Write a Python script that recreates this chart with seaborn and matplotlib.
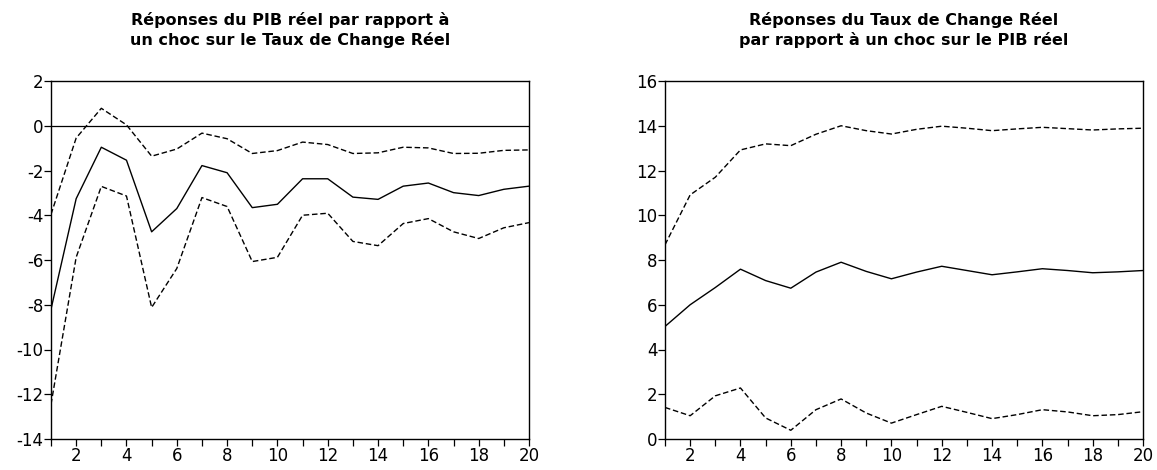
import numpy as np
import pandas as pd
import matplotlib
matplotlib.use("Agg")
import matplotlib.pyplot as plt
import seaborn as sns

periods = list(range(1, 21))

# Left: responses of real GDP to a shock on the real exchange rate
pib_resp = [-8.2, -3.26, -0.96, -1.54, -4.74, -3.70, -1.78, -2.10, -3.66, -3.51,
            -2.37, -2.37, -3.19, -3.29, -2.70, -2.56, -2.99, -3.12, -2.84, -2.70]
pib_upper = [-3.96, -0.55, 0.78, 0.04, -1.36, -1.04, -0.33, -0.58, -1.24, -1.11,
             -0.73, -0.84, -1.24, -1.21, -0.96, -0.99, -1.24, -1.23, -1.10, -1.08]
pib_lower = [-12.45, -5.88, -2.71, -3.14, -8.12, -6.38, -3.21, -3.61, -6.07, -5.88,
             -4.00, -3.91, -5.17, -5.36, -4.37, -4.15, -4.74, -5.04, -4.56, -4.33]

# Right: responses of real exchange rate to a shock on real GDP
tcr_resp = [5.03, 6.00, 6.77, 7.59, 7.08, 6.74, 7.46, 7.90, 7.49, 7.16,
            7.46, 7.72, 7.53, 7.34, 7.47, 7.61, 7.53, 7.43, 7.47, 7.53]
tcr_upper = [8.68, 10.91, 11.70, 12.92, 13.19, 13.11, 13.62, 14.00, 13.78, 13.63,
             13.84, 13.98, 13.89, 13.78, 13.86, 13.93, 13.87, 13.81, 13.86, 13.89]
tcr_lower = [1.41, 1.04, 1.93, 2.28, 0.94, 0.39, 1.31, 1.79, 1.16, 0.71,
             1.09, 1.46, 1.19, 0.91, 1.09, 1.31, 1.21, 1.04, 1.09, 1.22]

title_left = "Réponses du PIB réel par rapport à\nun choc sur le Taux de Change Réel"
title_right = "Réponses du Taux de Change Réel\npar rapport à un choc sur le PIB réel"

sns.set_style("white")
plt.rcParams['font.family'] = ['DejaVu Sans']
plt.rcParams['text.color'] = 'black'

fig = plt.figure(figsize=(11.57, 4.70), dpi=100)
W, H = 1157, 470
ax1 = fig.add_axes([51 / W, (H - 439) / H, 478 / W, 358 / H])
ax2 = fig.add_axes([665 / W, (H - 439) / H, 478 / W, 358 / H])


def draw(ax, resp, up, lo, ylim, yticks, title, zero_line):
    df = pd.DataFrame({
        "periode": periods * 3,
        "valeur": list(resp) + list(up) + list(lo),
        "serie": ["resp"] * 20 + ["up"] * 20 + ["lo"] * 20,
    })
    sns.lineplot(data=df[df.serie == "resp"], x="periode", y="valeur", ax=ax,
                 color="black", linewidth=1.0, legend=False)
    for s in ["up", "lo"]:
        sns.lineplot(data=df[df.serie == s], x="periode", y="valeur", ax=ax,
                     color="black", linewidth=1.0, linestyle=(0, (4, 2)), legend=False)
    if zero_line:
        ax.axhline(0, color="black", linewidth=0.9)
    ax.set_xlim(1, 20)
    ax.set_ylim(*ylim)
    ax.set_xticks(periods)
    ax.set_xticklabels([str(p) if p % 2 == 0 else "" for p in periods])
    ax.set_yticks(yticks)
    ax.set_yticklabels([str(v) for v in yticks])
    ax.set_xlabel("")
    ax.set_ylabel("")
    for sp in ax.spines.values():
        sp.set_visible(True)
        sp.set_color("black")
        sp.set_linewidth(1.0)
    ax.tick_params(axis="x", bottom=True, top=False, direction="out", length=5,
                   width=0.9, labelsize=12, pad=1, colors="black")
    ax.tick_params(axis="y", left=True, right=False, direction="out", length=5,
                   width=0.9, labelsize=12, pad=0.5, colors="black")
    ax.set_title(title, fontsize=11.5, fontweight="bold", pad=26,
                 linespacing=1.3, color="black")


draw(ax1, pib_resp, pib_upper, pib_lower, (-14, 2), list(range(-14, 3, 2)),
     title_left, True)
draw(ax2, tcr_resp, tcr_upper, tcr_lower, (0, 16), list(range(0, 17, 2)),
     title_right, False)

fig.savefig("out.png", dpi=100)
